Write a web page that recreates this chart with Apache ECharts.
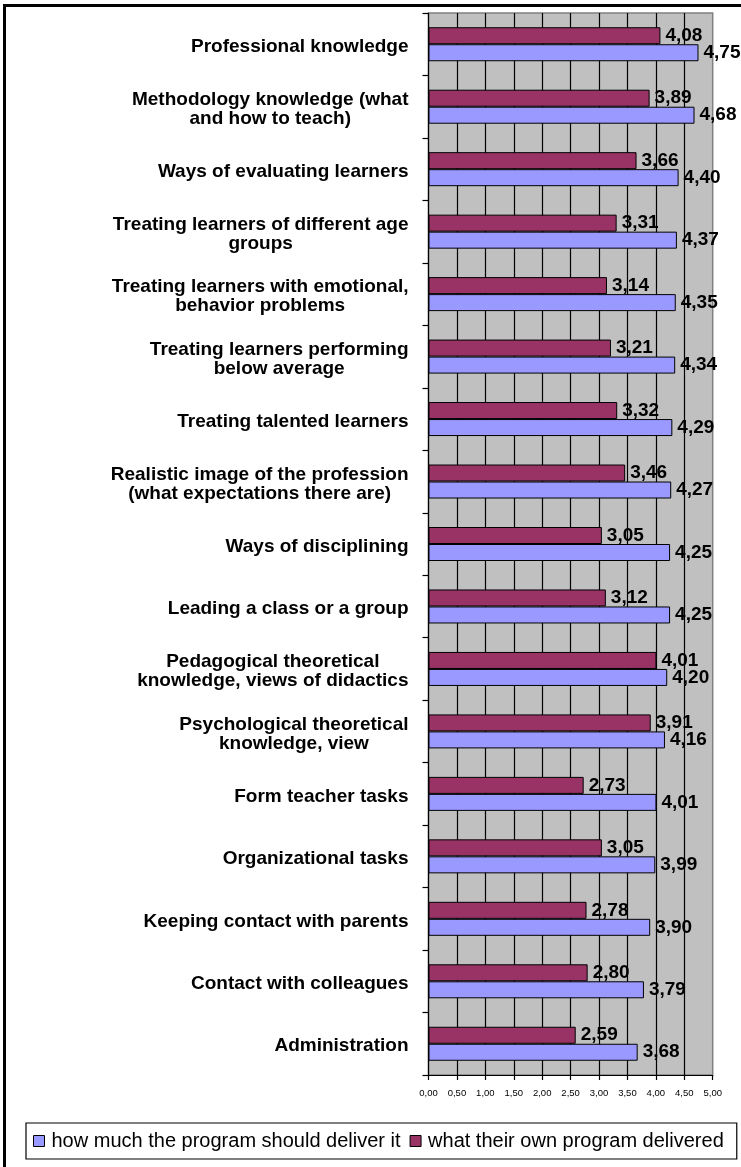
<!DOCTYPE html>
<html>
<head>
<meta charset="utf-8">
<script src="https://cdn.jsdelivr.net/npm/echarts@6/dist/echarts.min.js"></script>
<style>
  html, body { margin: 0; padding: 0; background: #fff; }
  #chart { width: 741px; height: 1167px; }
</style>
</head>
<body>
<div id="chart"></div>
<script>
// Topics, listed top to bottom
const categories = [
  'Professional knowledge',
  'Methodology knowledge (what\nand how to teach)',
  'Ways of evaluating learners',
  'Treating learners of different age\ngroups',
  'Treating learners with emotional,\nbehavior problems',
  'Treating learners performing\nbelow average',
  'Treating talented learners',
  'Realistic image of the profession\n(what expectations there are)',
  'Ways of disciplining',
  'Leading a class or a group',
  'Pedagogical theoretical\nknowledge, views of didactics',
  'Psychological theoretical\nknowledge, view',
  'Form teacher tasks',
  'Organizational tasks',
  'Keeping contact with parents',
  'Contact with colleagues',
  'Administration'
];

// Mean ratings per topic
const shouldDeliver = [4.75, 4.68, 4.40, 4.37, 4.35, 4.34, 4.29, 4.27, 4.25, 4.25, 4.20, 4.16, 4.01, 3.99, 3.90, 3.79, 3.68];
const ownDelivered  = [4.08, 3.89, 3.66, 3.31, 3.14, 3.21, 3.32, 3.46, 3.05, 3.12, 4.01, 3.91, 2.73, 3.05, 2.78, 2.80, 2.59];

const seriesNames = ['how much the program should deliver it', 'what their own program delivered'];

// Value axis ticks
const xMin = 0, xMax = 5, xStep = 0.5;

const FONT = '"Liberation Sans", Arial, sans-serif';
const comma = v => Number(v).toFixed(2).replace('.', ',');

const chart = echarts.init(document.getElementById('chart'), null, { renderer: 'canvas' });

const valueLabel = {
  show: true,
  position: 'right',
  distance: 5,
  formatter: p => comma(p.value),
  fontFamily: FONT,
  fontWeight: 'bold',
  fontSize: 19,
  color: '#000'
};

chart.setOption({
  backgroundColor: '#fff',
  animation: false,
  graphic: [{
    type: 'rect',
    shape: { x: 4.5, y: 5.5, width: 800, height: 1300 },
    style: { fill: 'none', stroke: '#000', lineWidth: 3 },
    silent: true,
    z: 100
  }],
  grid: {
    left: 428.5,
    right: 28.3,
    top: 13,
    bottom: 92,
    containLabel: false,
    show: true,
    backgroundColor: '#c0c0c0',
    borderColor: '#808080',
    borderWidth: 1.5
  },
  legend: {
    data: seriesNames,
    left: 26,
    top: 1123,
    orient: 'horizontal',
    itemWidth: 11,
    itemHeight: 11,
    itemGap: 9,
    padding: [8, 13, 8, 7],
    borderColor: '#000',
    borderWidth: 1.2,
    backgroundColor: '#fff',
    icon: 'rect',
    itemStyle: { borderColor: '#000', borderWidth: 1 },
    textStyle: {
      fontFamily: FONT,
      fontSize: 20,
      color: '#000',
      padding: [0, 0, 0, 2]
    }
  },
  xAxis: {
    type: 'value',
    min: xMin,
    max: xMax,
    interval: xStep,
    axisLine: { show: true, lineStyle: { color: '#000', width: 1.2 } },
    axisTick: { show: true, length: 5, lineStyle: { color: '#000', width: 1.2 } },
    axisLabel: {
      formatter: v => comma(v),
      fontFamily: FONT,
      fontSize: 9.5,
      color: '#000',
      margin: 13
    },
    splitLine: {
      show: true,
      showMinLine: false,
      showMaxLine: false,
      lineStyle: { color: '#000', width: 1.2 }
    }
  },
  yAxis: {
    type: 'category',
    data: categories,
    inverse: true,
    axisLine: { show: true, lineStyle: { color: '#000', width: 1.2 } },
    axisTick: { show: true, length: 6, lineStyle: { color: '#000', width: 1.2 } },
    axisLabel: {
      interval: 0,
      margin: 20,
      align: 'right',
      padding: [5, 0, 0, 0],
      formatter: v => v.split('\n').map(s => '{c|' + s + '}').join('\n'),
      rich: {
        c: {
          align: 'center',
          fontFamily: FONT,
          fontWeight: 'bold',
          fontSize: 19,
          lineHeight: 19,
          color: '#000'
        }
      }
    },
    splitLine: { show: false }
  },
  series: [
    {
      name: seriesNames[1],
      type: 'bar',
      data: ownDelivered,
      barWidth: 17,
      barGap: '0%',
      itemStyle: { color: '#993366', borderColor: '#000', borderWidth: 1 },
      label: valueLabel
    },
    {
      name: seriesNames[0],
      type: 'bar',
      data: shouldDeliver,
      barWidth: 17,
      barGap: '0%',
      itemStyle: { color: '#9999ff', borderColor: '#000', borderWidth: 1 },
      label: valueLabel
    }
  ]
});
</script>
</body>
</html>
